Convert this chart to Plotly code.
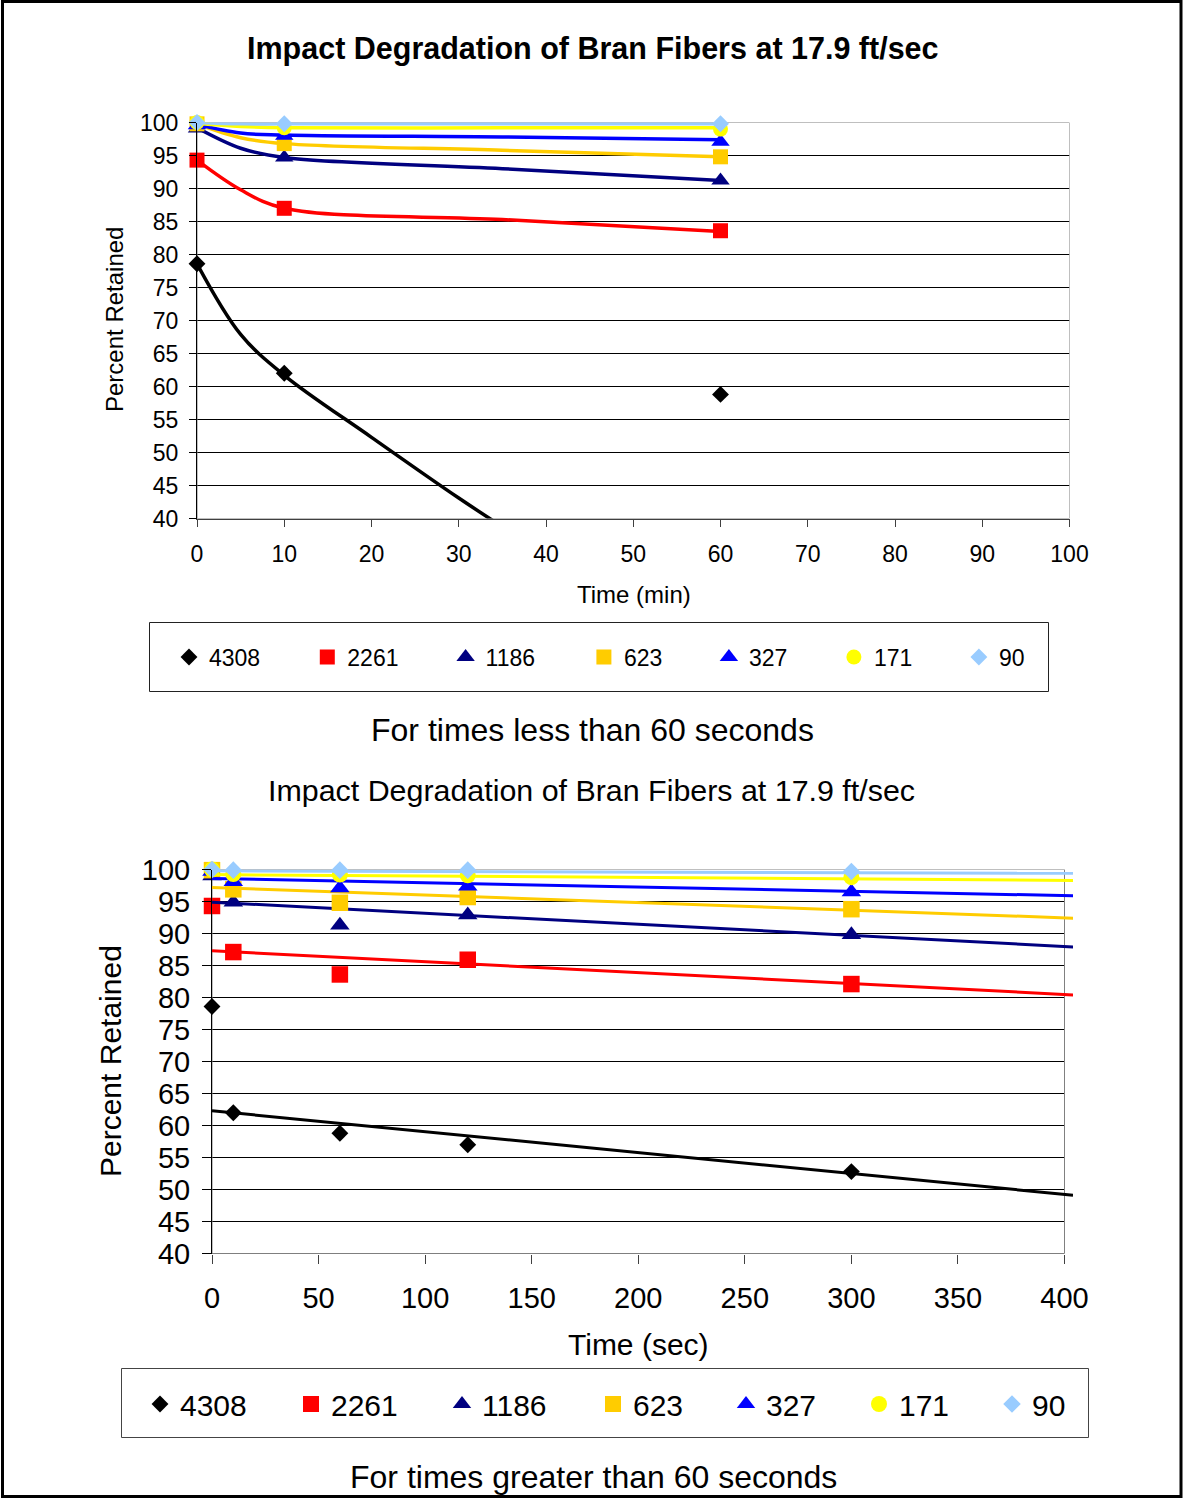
import plotly.graph_objects as go

W, H = 1183, 1499

# ---------------- data ----------------
series_names = ["4308", "2261", "1186", "623", "327", "171", "90"]
series_colors = ["#000000", "#FF0000", "#000080", "#FFCC00", "#0000FF", "#FFFF00", "#99CCFF"]
series_symbols = ["diamond", "square", "triangle-up", "square", "triangle-up", "circle", "diamond"]

# Top chart: time in minutes, measured points
top_time_min = [0, 10, 60]
top_4308 = [78.6, 62.0, 58.8]
top_2261 = [94.3, 87.0, 83.6]
top_1186 = [99.1, 94.7, 91.2]
top_623 = [99.8, 96.8, 94.8]
top_327 = [99.6, 98.0, 97.1]
top_171 = [100.0, 99.2, 99.0]
top_90 = [100.0, 99.8, 99.8]

# Top chart: smoothed curves as drawn
top_curve_time = [0, 5, 10, 35, 60]
top_curve_2261 = [94.3, 89.8, 87.0, 85.3, 83.5]
top_curve_1186 = [99.2, 96.1, 94.7, 93.0, 91.2]
top_curve_623 = [99.8, 97.7, 96.8, 95.8, 94.8]
top_curve_327 = [99.7, 98.4, 98.1, 97.8, 97.4]
top_curve_171 = [99.9, 99.4, 99.2, 99.2, 99.2]
top_curve_90 = [100.0, 99.8, 99.8, 99.8, 99.8]
top_curve_4308_time = [0, 5, 10, 20, 30, 36]
top_curve_4308 = [78.6, 67.9, 61.7, 52.3, 43.1, 37.9]

# Bottom chart: time in seconds, measured points
bot_time_sec = [0, 10, 60, 120, 300]
bot_4308 = [78.6, 62.0, 58.8, 57.0, 52.8]
bot_2261 = [94.3, 87.1, 83.6, 85.9, 82.1]
bot_1186 = [99.0, 94.9, 91.3, 92.9, 89.8]
bot_623 = [99.9, 96.9, 94.8, 95.7, 93.8]
bot_327 = [99.7, 98.1, 97.1, 97.4, 96.5]
bot_171 = [100.0, 99.3, 99.2, 99.1, 98.8]
bot_90 = [100.0, 99.9, 99.9, 99.9, 99.7]

# Bottom chart: linear trend lines (start / end)
bot_trend_time = [0, 404]
bot_trend_4308 = [62.3, 49.1]
bot_trend_2261 = [87.3, 80.4]
bot_trend_1186 = [94.9, 87.9]
bot_trend_623 = [97.2, 92.4]
bot_trend_327 = [98.6, 95.9]
bot_trend_171 = [99.2, 98.3]
bot_trend_90 = [99.8, 99.4]

top_x_ticks = list(range(0, 101, 10))
bot_x_ticks = list(range(0, 401, 50))
y_ticks = list(range(40, 101, 5))
TOP_XMAX = 100
BOT_XMAX = 400
BOT_XVIEW = 404

# ---------------- layout helpers ----------------
def fx(px):
    return px / W

def fy(py):
    return 1 - py / H

FONT = "Liberation Sans, Arial, sans-serif"

# plot-area pixel boxes (half-pixel aligned so 1px lines stay crisp)
TOP_L, TOP_R, TOP_T, TOP_B = 197, 1069.5, 122.5, 518.5
BOT_L, BOT_R, BOT_T, BOT_B = 212, 1064.5, 869.5, 1253.5

top_pts = [top_4308, top_2261, top_1186, top_623, top_327, top_171, top_90]
top_curves = [top_curve_4308, top_curve_2261, top_curve_1186, top_curve_623,
              top_curve_327, top_curve_171, top_curve_90]
bot_pts = [bot_4308, bot_2261, bot_1186, bot_623, bot_327, bot_171, bot_90]
bot_trends = [bot_trend_4308, bot_trend_2261, bot_trend_1186, bot_trend_623,
              bot_trend_327, bot_trend_171, bot_trend_90]

top_msize = [13, 15, 16, 15, 16, 15, 13]
bot_msize = [13, 16.5, 17, 16.5, 17, 16, 13.5]
top_lw = [93.3, 93.3, 93.3, 80, 80, 80, 80]
bot_lw = [106, 106, 106, 88, 88, 88, 88]

fig = go.Figure()

for i, name in enumerate(series_names):
    cx = top_curve_4308_time if i == 0 else top_curve_time
    fig.add_trace(go.Scatter(
        x=cx, y=top_curves[i], mode="lines", line=dict(color=series_colors[i], width=3.5, shape="spline"),
        showlegend=False, hoverinfo="skip", xaxis="x", yaxis="y"))
    fig.add_trace(go.Scatter(
        x=top_time_min, y=top_pts[i], mode="markers", name=name, cliponaxis=False,
        marker=dict(symbol=series_symbols[i], color=series_colors[i], size=top_msize[i]),
        legend="legend", legendwidth=top_lw[i], xaxis="x", yaxis="y"))

for i, name in enumerate(series_names):
    fig.add_trace(go.Scatter(
        x=bot_trend_time, y=bot_trends[i], mode="lines", line=dict(color=series_colors[i], width=3),
        showlegend=False, hoverinfo="skip", xaxis="x2", yaxis="y2"))
    fig.add_trace(go.Scatter(
        x=bot_time_sec, y=bot_pts[i], mode="markers", name=name, cliponaxis=False,
        marker=dict(symbol=series_symbols[i], color=series_colors[i], size=bot_msize[i]),
        legend="legend2", legendwidth=bot_lw[i], xaxis="x2", yaxis="y2"))

axis_common = dict(showgrid=False, zeroline=False, automargin=False, fixedrange=True,
                   ticks="outside")

bot_px_per_unit = (BOT_R - BOT_L) / BOT_XMAX

fig.update_layout(
    width=W, height=H, autosize=False,
    margin=dict(l=0, r=0, t=0, b=0, pad=0),
    paper_bgcolor="white", plot_bgcolor="white",
    font=dict(family=FONT, color="black"),
    xaxis=dict(axis_common, domain=[fx(TOP_L), fx(TOP_R)], range=[0, TOP_XMAX], tickvals=top_x_ticks,
               ticklen=7, tickcolor="#404040", showline=True, linecolor="#404040", anchor="y",
               tickfont=dict(size=23), ticklabelstandoff=8),
    yaxis=dict(axis_common, domain=[fy(TOP_B), fy(TOP_T)], range=[40, 100], tickvals=y_ticks,
               ticklen=7, tickcolor="black", showline=True, linecolor="black", anchor="x",
               tickfont=dict(size=23), ticklabelstandoff=6),
    xaxis2=dict(axis_common, domain=[fx(BOT_L), fx(BOT_L + bot_px_per_unit * BOT_XVIEW)],
                range=[0, BOT_XVIEW], tickvals=bot_x_ticks,
                ticklen=9, tickcolor="#404040", showline=False, anchor="y2",
                tickfont=dict(size=29), ticklabelstandoff=10),
    yaxis2=dict(axis_common, domain=[fy(BOT_B), fy(BOT_T)], range=[40, 100], tickvals=y_ticks,
                ticklen=9, tickcolor="black", showline=True, linecolor="black", anchor="x2",
                tickfont=dict(size=29), ticklabelstandoff=6),
    legend=dict(orientation="h", x=fx(169), y=fy(657), xanchor="left", yanchor="middle",
                xref="paper", yref="paper", bgcolor="rgba(0,0,0,0)", borderwidth=0,
                font=dict(size=23, family=FONT), traceorder="normal"),
    legend2=dict(orientation="h", x=fx(140), y=fy(1404), xanchor="left", yanchor="middle",
                 xref="paper", yref="paper", bgcolor="rgba(0,0,0,0)", borderwidth=0,
                 font=dict(size=30, family=FONT), traceorder="normal"),
    showlegend=True,
)

shapes = []
# horizontal grid lines (drawn below the data)
for v in y_ticks[1:-1]:
    shapes.append(dict(type="line", xref="x", yref="y", x0=0, x1=TOP_XMAX, y0=v, y1=v,
                       line=dict(color="black", width=1), layer="below"))
    shapes.append(dict(type="line", xref="x2", yref="y2", x0=0, x1=BOT_XMAX, y0=v, y1=v,
                       line=dict(color="black", width=1), layer="below"))
# plot-area borders (gray)
shapes.append(dict(type="rect", xref="x", yref="y", x0=0, x1=TOP_XMAX, y0=40, y1=100,
                   line=dict(color="#808080", width=1), layer="below"))
shapes.append(dict(type="rect", xref="x2", yref="y2", x0=0, x1=BOT_XMAX, y0=40, y1=100,
                   line=dict(color="#808080", width=1), layer="below"))
shapes.append(dict(type="line", xref="x2", yref="y2", x0=0, x1=BOT_XMAX, y0=40, y1=40,
                   line=dict(color="#404040", width=1), layer="below"))
# legend boxes
shapes.append(dict(type="rect", xref="paper", yref="paper", x0=fx(149.5), x1=fx(1048.5),
                   y0=fy(691.5), y1=fy(622.5), line=dict(color="#222222", width=1)))
shapes.append(dict(type="rect", xref="paper", yref="paper", x0=fx(121.5), x1=fx(1088.5),
                   y0=fy(1437.5), y1=fy(1368.5), line=dict(color="#444444", width=1)))
# outer page border
shapes.append(dict(type="rect", xref="paper", yref="paper", x0=fx(2.5), x1=fx(1181),
                   y0=fy(1496.5), y1=fy(1.5), line=dict(color="black", width=3)))
fig.update_layout(shapes=shapes)

def ann(text, x, y, size, bold=False, angle=0):
    return dict(text=("<b>%s</b>" % text) if bold else text, x=fx(x), y=fy(y),
                xref="paper", yref="paper", showarrow=False,
                xanchor="center", yanchor="middle", textangle=angle,
                font=dict(size=size, family=FONT, color="black"))

fig.update_layout(annotations=[
    ann("Impact Degradation of Bran Fibers at 17.9 ft/sec", 592.5, 48, 30.5, bold=True),
    ann("Time (min)", 633.5, 594, 24),
    ann("Percent Retained", 115, 320, 24, angle=-90),
    ann("For times less than 60 seconds", 592.5, 730, 32),
    ann("Impact Degradation of Bran Fibers at 17.9 ft/sec", 591.5, 790, 30.4),
    ann("Time (sec)", 638.5, 1344, 30),
    ann("Percent Retained", 110, 1061, 30, angle=-90),
    ann("For times greater than 60 seconds", 593, 1477, 32),
])

fig.write_html("out.html", include_plotlyjs=True, config={"displayModeBar": False})

with open("out.html", "r", encoding="utf-8") as f:
    html = f.read()
html = html.replace("<body>", '<body style="margin:0;padding:0;overflow:hidden;">', 1)
with open("out.html", "w", encoding="utf-8") as f:
    f.write(html)
